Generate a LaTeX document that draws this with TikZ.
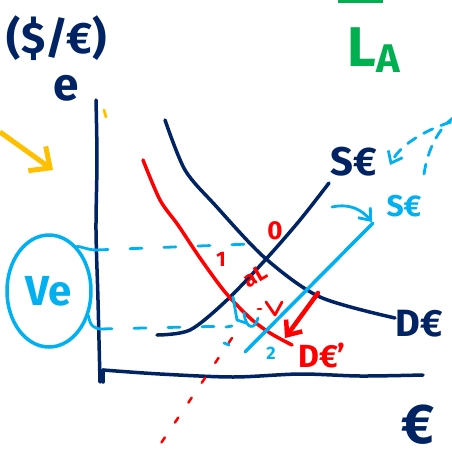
\documentclass[tikz,border=0pt]{standalone}
\usepackage{fontspec}
\setmainfont{Fira Sans}
\usetikzlibrary{arrows.meta, positioning, shapes.geometric}
\definecolor{navyink}{RGB}{0,35,100}
\definecolor{skyink}{RGB}{0,176,240}
\definecolor{redink}{RGB}{255,0,0}
\definecolor{greenink}{RGB}{0,176,80}
\definecolor{goldink}{RGB}{255,192,0}
\tikzset{
  pen/.style={line width=3.5pt, line cap=round, line join=round},
  thinpen/.style={line width=2.8pt, line cap=round, line join=round},
  hand/.style={inner sep=0pt, font=\fontsize{#1}{#1}\selectfont\bfseries},
  bluedash/.style={skyink, line width=2.8pt, dash pattern=on 12pt off 22pt, line cap=round},
  reddots/.style={redink, line width=2.5pt, dash pattern=on 6pt off 18pt, line cap=round},
}

\begin{document}
\begin{tikzpicture}[x=1pt,y=-1pt]
  \useasboundingbox (0,0) rectangle (451,459);
  % Axes
  \draw[navyink,pen] plot[smooth] coordinates {(96,100) (97,160) (96,230) (98,300) (100,382)};
  \draw[navyink,pen] (103,382) -- (103,370);
  \draw[navyink,pen] plot[smooth] coordinates {(103,370) (160,374) (233,377) (300,374) (360,376) (423,375)};
  \node[navyink,hand=44] (unit) at (57,38) {(\$/€)};
  \node[navyink,hand=46] (erate) at (66,88) {e};
  \node[navyink,hand=56] (euro) at (418,425) {€};
  \draw[goldink,thinpen] (104,110) -- (106,117);

  % Supply and demand of euros
  \draw[navyink,pen] plot[smooth] coordinates {(165,120) (185,170) (215,205) (265,258) (320,297) (395,318)};
  \draw[navyink,pen] plot[smooth] coordinates {(157,335) (190,330) (227,300) (267,258) (300,220) (329,183)};
  \node[navyink,hand=40] (slabel) at (354,162) {S€};
  \node[navyink,hand=38] (dlabel) at (419,324) {D€};

  % Shifted curves
  \draw[redink,pen] plot[smooth] coordinates {(143,160) (160,200) (178,225) (200,258) (225,292) (250,318) (270,333) (292,345)};
  \draw[skyink,pen] (245,352) -- (373,223);
  \draw[reddots] (232,338) -- (155,452);
  \node[skyink,hand=30] (snew) at (404,206) {S€};
  \node[redink,hand=32] (dnew) at (322,356) {D€'};

  % Points
  \node[redink,hand=26] (pt0) at (275,231) {0};
  \node[redink,hand=21] (pt1) at (221,259) {1};
  \node[skyink,hand=18] (pt2) at (271,353) {2};
  \node[redink,hand=22,rotate=30] (al) at (255,276) {aL};

  % Small marks along the curves
  \draw[skyink,thinpen] (233,297) -- (237,320) -- (246,323);
  \draw[skyink,thinpen] (244,313) .. controls (246,330) and (255,330) .. (258,318);
  \draw[skyink,thinpen] (226,327) -- (232,326);
  \draw[skyink,thinpen] (224,343) -- (229,345);
  \draw[redink,thinpen] (266,302) -- (275,315) -- (282,302);
  \draw[redink,thinpen] (258,309) -- (261,309);

  % Shift arrows
  \coordinate (rstart) at (318,293);
  \coordinate (rend) at (285,338);
  \draw[redink,line width=4.5pt,line cap=round,-{Straight Barb[length=12pt,width=20pt]}] (rstart) -- (rend);
  \coordinate (bstart) at (332,207);
  \coordinate (bend) at (372,222);
  \draw[skyink,thinpen,-{Straight Barb[length=10pt,width=16pt]}] (bstart) .. controls (350,203) and (362,210) .. (bend);
  \coordinate (loopstart) at (424,174);
  \coordinate (looptop) at (451,122);
  \coordinate (loopend) at (390,165);
  \draw[skyink,line width=2.8pt,line cap=round,dash pattern=on 10pt off 9pt,-{Straight Barb[length=10pt,width=16pt]}]
    (loopstart) .. controls (432,120) and (470,108) .. (looptop)
    .. controls (425,130) and (400,145) .. (loopend);

  % Exchange rate falls
  \node[skyink,ellipse,draw,pen,minimum width=84pt,minimum height=112pt,hand=42] (ve) at (49,291) {Ve};
  \coordinate (upaxis) at (96,250);
  \coordinate (upend) at (250,244);
  \coordinate (lowaxis) at (100,329);
  \coordinate (lowend) at (232,326);
  \draw[skyink,thinpen] (ve.58) .. controls (80,246) and (88,250) .. (upaxis);
  \draw[bluedash] (upaxis) -- (upend);
  \draw[skyink,thinpen] (ve.-32) .. controls (90,327) and (95,328) .. (lowaxis);
  \draw[bluedash] (lowaxis) -- (lowend);

  % Side notes
  \coordinate (ystart) at (0,132);
  \coordinate (yend) at (53,170);
  \draw[goldink,line width=5pt,-{Straight Barb[length=16pt,width=30pt]}] (ystart) -- (yend);
  \draw[greenink,line width=3pt] (338,1) -- (383,1);
  \node[greenink,hand=56] (la) at (374,50) {L{\fontsize{40}{40}\selectfont\bfseries\raisebox{-6pt}{A}}};
\end{tikzpicture}
\end{document}
